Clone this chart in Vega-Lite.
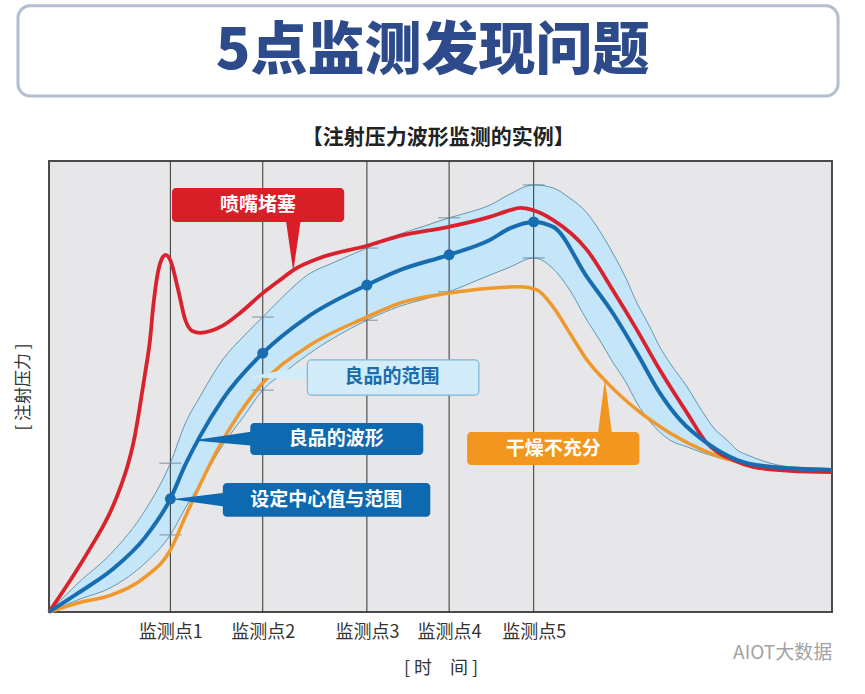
{
  "$schema": "https://vega.github.io/schema/vega-lite/v6.json",
  "width": 783,
  "height": 451,
  "autosize": {"type": "none"},
  "padding": {"left": 49, "top": 161, "right": 33, "bottom": 82},
  "background": "white",
  "config": {
    "font": "Noto Sans CJK SC",
    "view": {"fill": "#E7E7E9", "stroke": "#4a4a4a", "strokeWidth": 2},
    "axisX": {"ticks": false, "domain": false, "grid": false, "labelFontSize": 18, "labelColor": "#333333", "labelPadding": 11, "labelFont": "Noto Sans CJK SC", "labelOverlap": false, "labelBound": false, "labelFlush": false, "titleFontSize": 18, "titleFontWeight": "normal", "titleColor": "#333333", "titlePadding": 18, "titleFont": "Noto Sans CJK SC"},
    "axisY": {"labels": false, "ticks": false, "domain": false, "grid": false, "titleFontSize": 17, "titleFontWeight": "normal", "titleColor": "#333333", "titlePadding": 17, "titleFont": "Noto Sans CJK SC"}
  },
  "datasets": {
    "monitors": [
      {"pt": 1, "x": 15.5, "c": 25.1, "hi": 33.0, "lo": 17.1},
      {"pt": 2, "x": 27.3, "c": 57.4, "hi": 65.4, "lo": 49.2},
      {"pt": 3, "x": 40.6, "c": 72.5, "hi": 80.7, "lo": 64.7},
      {"pt": 4, "x": 51.1, "c": 79.2, "hi": 87.4, "lo": 71.0},
      {"pt": 5, "x": 61.9, "c": 86.5, "hi": 94.7, "lo": 78.5}
    ],
    "band": [
      {"x": 0, "lo": 0, "hi": 0},
      {"x": 3.7, "lo": 2.7, "hi": 6.4},
      {"x": 8.0, "lo": 5.5, "hi": 13.1},
      {"x": 12.3, "lo": 10.9, "hi": 22.6},
      {"x": 15.5, "lo": 17.1, "hi": 33.0},
      {"x": 17.4, "lo": 23.0, "hi": 41.8},
      {"x": 19.3, "lo": 28.5, "hi": 47.8},
      {"x": 22.2, "lo": 37.0, "hi": 56.0},
      {"x": 25.0, "lo": 43.7, "hi": 61.4},
      {"x": 27.3, "lo": 49.2, "hi": 65.4},
      {"x": 30.1, "lo": 53.2, "hi": 70.3},
      {"x": 33.0, "lo": 57.0, "hi": 74.7},
      {"x": 36.5, "lo": 60.9, "hi": 77.6},
      {"x": 40.6, "lo": 64.7, "hi": 80.7},
      {"x": 44.8, "lo": 67.8, "hi": 83.8},
      {"x": 48.0, "lo": 69.4, "hi": 85.6},
      {"x": 51.1, "lo": 71.0, "hi": 87.4},
      {"x": 53.8, "lo": 72.9, "hi": 88.7},
      {"x": 56.3, "lo": 74.7, "hi": 90.2},
      {"x": 58.9, "lo": 76.5, "hi": 92.7},
      {"x": 61.9, "lo": 78.5, "hi": 94.7},
      {"x": 64.4, "lo": 76.1, "hi": 94.0},
      {"x": 66.5, "lo": 71.4, "hi": 91.8},
      {"x": 68.7, "lo": 64.7, "hi": 88.5},
      {"x": 70.4, "lo": 60.1, "hi": 84.3},
      {"x": 72.0, "lo": 55.4, "hi": 79.6},
      {"x": 73.6, "lo": 51.2, "hi": 74.3},
      {"x": 75.1, "lo": 46.3, "hi": 68.5},
      {"x": 76.8, "lo": 42.1, "hi": 63.0},
      {"x": 78.0, "lo": 39.9, "hi": 58.8},
      {"x": 79.3, "lo": 38.1, "hi": 55.2},
      {"x": 81.5, "lo": 36.6, "hi": 49.9},
      {"x": 83.5, "lo": 35.3, "hi": 44.3},
      {"x": 84.8, "lo": 34.6, "hi": 41.0},
      {"x": 86.6, "lo": 33.7, "hi": 38.1},
      {"x": 87.9, "lo": 33.3, "hi": 35.9},
      {"x": 89.5, "lo": 32.6, "hi": 34.6},
      {"x": 92.1, "lo": 32.2, "hi": 33.0},
      {"x": 95.9, "lo": 31.7, "hi": 31.9},
      {"x": 100, "lo": 31.5, "hi": 31.5}
    ],
    "curves": [
      {"s": "red", "x": 0, "y": 0},
      {"s": "red", "x": 3.3, "y": 8.6},
      {"s": "red", "x": 5.9, "y": 16.0},
      {"s": "red", "x": 7.0, "y": 19.3},
      {"s": "red", "x": 8.2, "y": 23.6},
      {"s": "red", "x": 9.2, "y": 28.0},
      {"s": "red", "x": 10.1, "y": 32.8},
      {"s": "red", "x": 10.9, "y": 38.5},
      {"s": "red", "x": 11.6, "y": 45.5},
      {"s": "red", "x": 12.3, "y": 53.2},
      {"s": "red", "x": 12.9, "y": 60.3},
      {"s": "red", "x": 13.3, "y": 67.6},
      {"s": "red", "x": 13.9, "y": 75.2},
      {"s": "red", "x": 14.5, "y": 78.6},
      {"s": "red", "x": 14.9, "y": 79.2},
      {"s": "red", "x": 15.5, "y": 78.0},
      {"s": "red", "x": 16.5, "y": 71.4},
      {"s": "red", "x": 17.4, "y": 64.8},
      {"s": "red", "x": 18.3, "y": 62.3},
      {"s": "red", "x": 19.3, "y": 61.9},
      {"s": "red", "x": 20.6, "y": 62.3},
      {"s": "red", "x": 22.2, "y": 63.5},
      {"s": "red", "x": 24.4, "y": 66.3},
      {"s": "red", "x": 27.3, "y": 70.7},
      {"s": "red", "x": 29.5, "y": 73.6},
      {"s": "red", "x": 31.2, "y": 75.8},
      {"s": "red", "x": 34.6, "y": 78.5},
      {"s": "red", "x": 40.6, "y": 81.2},
      {"s": "red", "x": 44.8, "y": 83.4},
      {"s": "red", "x": 51.1, "y": 85.4},
      {"s": "red", "x": 56.3, "y": 87.6},
      {"s": "red", "x": 58.9, "y": 89.1},
      {"s": "red", "x": 60.2, "y": 89.6},
      {"s": "red", "x": 61.8, "y": 89.1},
      {"s": "red", "x": 64.4, "y": 86.9},
      {"s": "red", "x": 68.7, "y": 80.3},
      {"s": "red", "x": 72.0, "y": 71.4},
      {"s": "red", "x": 75.1, "y": 62.5},
      {"s": "red", "x": 78.0, "y": 53.7},
      {"s": "red", "x": 81.5, "y": 44.1},
      {"s": "red", "x": 84.0, "y": 37.5},
      {"s": "red", "x": 87.4, "y": 33.7},
      {"s": "red", "x": 89.9, "y": 32.2},
      {"s": "red", "x": 94.6, "y": 31.3},
      {"s": "red", "x": 100, "y": 31.0},
      {"s": "blue", "x": 0, "y": 0},
      {"s": "blue", "x": 3.7, "y": 4.2},
      {"s": "blue", "x": 8.0, "y": 9.3},
      {"s": "blue", "x": 12.3, "y": 16.6},
      {"s": "blue", "x": 15.5, "y": 25.1},
      {"s": "blue", "x": 17.4, "y": 32.6},
      {"s": "blue", "x": 19.3, "y": 39.0},
      {"s": "blue", "x": 22.2, "y": 47.2},
      {"s": "blue", "x": 27.3, "y": 57.4},
      {"s": "blue", "x": 33.0, "y": 65.4},
      {"s": "blue", "x": 40.6, "y": 72.5},
      {"s": "blue", "x": 44.8, "y": 75.8},
      {"s": "blue", "x": 51.1, "y": 79.2},
      {"s": "blue", "x": 56.3, "y": 82.5},
      {"s": "blue", "x": 58.9, "y": 85.1},
      {"s": "blue", "x": 61.9, "y": 86.5},
      {"s": "blue", "x": 64.4, "y": 85.4},
      {"s": "blue", "x": 68.7, "y": 74.3},
      {"s": "blue", "x": 72.0, "y": 66.3},
      {"s": "blue", "x": 75.1, "y": 57.4},
      {"s": "blue", "x": 78.0, "y": 48.6},
      {"s": "blue", "x": 80.6, "y": 42.6},
      {"s": "blue", "x": 84.0, "y": 37.5},
      {"s": "blue", "x": 87.9, "y": 33.7},
      {"s": "blue", "x": 92.1, "y": 32.2},
      {"s": "blue", "x": 100, "y": 31.5},
      {"s": "orange", "x": 0, "y": 0},
      {"s": "orange", "x": 3.7, "y": 2.0},
      {"s": "orange", "x": 8.0, "y": 3.8},
      {"s": "orange", "x": 12.3, "y": 7.8},
      {"s": "orange", "x": 15.5, "y": 13.7},
      {"s": "orange", "x": 17.4, "y": 21.1},
      {"s": "orange", "x": 20.2, "y": 31.5},
      {"s": "orange", "x": 22.2, "y": 38.1},
      {"s": "orange", "x": 27.3, "y": 50.8},
      {"s": "orange", "x": 33.0, "y": 58.8},
      {"s": "orange", "x": 40.6, "y": 65.4},
      {"s": "orange", "x": 44.8, "y": 68.5},
      {"s": "orange", "x": 51.1, "y": 70.7},
      {"s": "orange", "x": 56.3, "y": 71.8},
      {"s": "orange", "x": 60.2, "y": 72.1},
      {"s": "orange", "x": 62.3, "y": 71.4},
      {"s": "orange", "x": 64.4, "y": 67.6},
      {"s": "orange", "x": 66.5, "y": 61.9},
      {"s": "orange", "x": 68.7, "y": 55.9},
      {"s": "orange", "x": 71.3, "y": 50.8},
      {"s": "orange", "x": 75.1, "y": 44.8},
      {"s": "orange", "x": 79.3, "y": 39.7},
      {"s": "orange", "x": 83.5, "y": 35.9},
      {"s": "orange", "x": 87.9, "y": 33.3},
      {"s": "orange", "x": 92.1, "y": 32.2},
      {"s": "orange", "x": 100, "y": 31.5}
    ],
    "boxes": [
      {"id": "nozzle", "label": "喷嘴堵塞", "x": 15.7, "x2": 37.7, "y": 86.5, "y2": 94.0, "tx": 26.7, "ty": 90.25},
      {"id": "range", "label": "良品的范围", "x": 33.0, "x2": 54.9, "y": 48.1, "y2": 55.9, "tx": 43.8, "ty": 52.0},
      {"id": "wave", "label": "良品的波形", "x": 25.7, "x2": 47.8, "y": 34.8, "y2": 41.9, "tx": 36.7, "ty": 38.35},
      {"id": "center", "label": "设定中心值与范围", "x": 22.2, "x2": 48.7, "y": 21.1, "y2": 28.6, "tx": 35.4, "ty": 24.85},
      {"id": "dry", "label": "干燥不充分", "x": 53.4, "x2": 75.4, "y": 32.6, "y2": 39.9, "tx": 64.4, "ty": 36.25}
    ],
    "pointers": [
      {"id": "nozzle", "k": 0, "x": 31.2, "y": 88.5, "w": 1},
      {"id": "nozzle", "k": 1, "x": 31.2, "y": 76.3, "w": 0},
      {"id": "range", "k": 0, "x": 34.5, "y": 53.3, "w": 1},
      {"id": "range", "k": 1, "x": 25.9, "y": 52.1, "w": 0},
      {"id": "wave", "k": 0, "x": 27.5, "y": 38.5, "w": 1},
      {"id": "wave", "k": 1, "x": 18.9, "y": 38.1, "w": 0},
      {"id": "center", "k": 0, "x": 24.0, "y": 24.9, "w": 1},
      {"id": "center", "k": 1, "x": 16.2, "y": 25.0, "w": 0},
      {"id": "dry", "k": 0, "x": 71.0, "y": 37.0, "w": 1},
      {"id": "dry", "k": 1, "x": 71.0, "y": 50.8, "w": 0}
    ],
    "headings": [
      {"t": "5点监测发现问题", "x": 49.0, "y": 124.2, "kind": "main"},
      {"t": "【注射压力波形监测的实例】", "x": 49.7, "y": 105.1, "kind": "sub"}
    ]
  },
  "layer": [
    {
      "data": {"values": [{"x": -3.96, "x2": 100.77, "y": 114.4, "y2": 134.4}]},
      "mark": {"type": "rect", "fill": "white", "stroke": "#B3BED1", "strokeWidth": 3, "cornerRadius": 12},
      "encoding": {
        "x": {"field": "x", "type": "quantitative", "scale": {"domain": [0, 100], "nice": false, "zero": false}, "title": "[ 时　间 ]", "axis": {"values": [15.5, 27.3, 40.6, 51.1, 61.9], "labelExpr": "'监测点' + (indexof([15.5, 27.3, 40.6, 51.1, 61.9], datum.value) + 1)"}},
        "x2": {"field": "x2"},
        "y": {"field": "y", "type": "quantitative", "scale": {"domain": [0, 100], "nice": false, "zero": false}, "title": "[ 注射压力 ]"},
        "y2": {"field": "y2"}
      }
    },
    {
      "data": {"name": "band"},
      "mark": {"type": "area", "fill": "#C4E6F8", "interpolate": "monotone"},
      "encoding": {
        "x": {"field": "x", "type": "quantitative", "scale": {"domain": [0, 100], "nice": false, "zero": false}, "title": "[ 时　间 ]", "axis": {"values": [15.5, 27.3, 40.6, 51.1, 61.9], "labelExpr": "'监测点' + (indexof([15.5, 27.3, 40.6, 51.1, 61.9], datum.value) + 1)"}},
        "y": {"field": "lo", "type": "quantitative", "scale": {"domain": [0, 100], "nice": false, "zero": false}, "title": "[ 注射压力 ]"},
        "y2": {"field": "hi"}
      }
    },
    {
      "data": {"name": "monitors"},
      "mark": {"type": "rule", "color": "#333333", "strokeWidth": 1},
      "encoding": {
        "x": {"field": "x", "type": "quantitative", "scale": {"domain": [0, 100], "nice": false, "zero": false}, "title": "[ 时　间 ]", "axis": {"values": [15.5, 27.3, 40.6, 51.1, 61.9], "labelExpr": "'监测点' + (indexof([15.5, 27.3, 40.6, 51.1, 61.9], datum.value) + 1)"}}
      }
    },
    {
      "data": {"name": "band"},
      "mark": {"type": "line", "color": "#5A8BAA", "strokeWidth": 0.9, "interpolate": "monotone"},
      "encoding": {
        "x": {"field": "x", "type": "quantitative", "scale": {"domain": [0, 100], "nice": false, "zero": false}, "title": "[ 时　间 ]", "axis": {"values": [15.5, 27.3, 40.6, 51.1, 61.9], "labelExpr": "'监测点' + (indexof([15.5, 27.3, 40.6, 51.1, 61.9], datum.value) + 1)"}},
        "y": {"field": "hi", "type": "quantitative", "scale": {"domain": [0, 100], "nice": false, "zero": false}, "title": "[ 注射压力 ]"}
      }
    },
    {
      "data": {"name": "band"},
      "mark": {"type": "line", "color": "#5A8BAA", "strokeWidth": 0.9, "interpolate": "monotone"},
      "encoding": {
        "x": {"field": "x", "type": "quantitative", "scale": {"domain": [0, 100], "nice": false, "zero": false}, "title": "[ 时　间 ]", "axis": {"values": [15.5, 27.3, 40.6, 51.1, 61.9], "labelExpr": "'监测点' + (indexof([15.5, 27.3, 40.6, 51.1, 61.9], datum.value) + 1)"}},
        "y": {"field": "lo", "type": "quantitative", "scale": {"domain": [0, 100], "nice": false, "zero": false}, "title": "[ 注射压力 ]"}
      }
    },
    {
      "data": {"name": "monitors"},
      "mark": {"type": "tick", "orient": "horizontal", "size": 22, "thickness": 1, "color": "#4F6F82"},
      "encoding": {
        "x": {"field": "x", "type": "quantitative", "scale": {"domain": [0, 100], "nice": false, "zero": false}, "title": "[ 时　间 ]", "axis": {"values": [15.5, 27.3, 40.6, 51.1, 61.9], "labelExpr": "'监测点' + (indexof([15.5, 27.3, 40.6, 51.1, 61.9], datum.value) + 1)"}},
        "y": {"field": "hi", "type": "quantitative", "scale": {"domain": [0, 100], "nice": false, "zero": false}, "title": "[ 注射压力 ]"}
      }
    },
    {
      "data": {"name": "monitors"},
      "mark": {"type": "tick", "orient": "horizontal", "size": 22, "thickness": 1, "color": "#4F6F82"},
      "encoding": {
        "x": {"field": "x", "type": "quantitative", "scale": {"domain": [0, 100], "nice": false, "zero": false}, "title": "[ 时　间 ]", "axis": {"values": [15.5, 27.3, 40.6, 51.1, 61.9], "labelExpr": "'监测点' + (indexof([15.5, 27.3, 40.6, 51.1, 61.9], datum.value) + 1)"}},
        "y": {"field": "lo", "type": "quantitative", "scale": {"domain": [0, 100], "nice": false, "zero": false}, "title": "[ 注射压力 ]"}
      }
    },
    {
      "data": {"name": "curves"},
      "transform": [{"filter": "datum.s === 'orange'"}],
      "mark": {"type": "line", "color": "#F0982C", "strokeWidth": 3.5, "interpolate": "monotone"},
      "encoding": {
        "x": {"field": "x", "type": "quantitative", "scale": {"domain": [0, 100], "nice": false, "zero": false}, "title": "[ 时　间 ]", "axis": {"values": [15.5, 27.3, 40.6, 51.1, 61.9], "labelExpr": "'监测点' + (indexof([15.5, 27.3, 40.6, 51.1, 61.9], datum.value) + 1)"}},
        "y": {"field": "y", "type": "quantitative", "scale": {"domain": [0, 100], "nice": false, "zero": false}, "title": "[ 注射压力 ]"}
      }
    },
    {
      "data": {"name": "curves"},
      "transform": [{"filter": "datum.s === 'red'"}],
      "mark": {"type": "line", "color": "#D8222D", "strokeWidth": 3.8, "interpolate": "monotone"},
      "encoding": {
        "x": {"field": "x", "type": "quantitative", "scale": {"domain": [0, 100], "nice": false, "zero": false}, "title": "[ 时　间 ]", "axis": {"values": [15.5, 27.3, 40.6, 51.1, 61.9], "labelExpr": "'监测点' + (indexof([15.5, 27.3, 40.6, 51.1, 61.9], datum.value) + 1)"}},
        "y": {"field": "y", "type": "quantitative", "scale": {"domain": [0, 100], "nice": false, "zero": false}, "title": "[ 注射压力 ]"}
      }
    },
    {
      "data": {"name": "curves"},
      "transform": [{"filter": "datum.s === 'blue'"}],
      "mark": {"type": "line", "color": "#176DB0", "strokeWidth": 4, "interpolate": "monotone"},
      "encoding": {
        "x": {"field": "x", "type": "quantitative", "scale": {"domain": [0, 100], "nice": false, "zero": false}, "title": "[ 时　间 ]", "axis": {"values": [15.5, 27.3, 40.6, 51.1, 61.9], "labelExpr": "'监测点' + (indexof([15.5, 27.3, 40.6, 51.1, 61.9], datum.value) + 1)"}},
        "y": {"field": "y", "type": "quantitative", "scale": {"domain": [0, 100], "nice": false, "zero": false}, "title": "[ 注射压力 ]"}
      }
    },
    {
      "data": {"name": "monitors"},
      "mark": {"type": "point", "filled": true, "size": 120, "color": "#176DB0", "opacity": 1},
      "encoding": {
        "x": {"field": "x", "type": "quantitative", "scale": {"domain": [0, 100], "nice": false, "zero": false}, "title": "[ 时　间 ]", "axis": {"values": [15.5, 27.3, 40.6, 51.1, 61.9], "labelExpr": "'监测点' + (indexof([15.5, 27.3, 40.6, 51.1, 61.9], datum.value) + 1)"}},
        "y": {"field": "c", "type": "quantitative", "scale": {"domain": [0, 100], "nice": false, "zero": false}, "title": "[ 注射压力 ]"}
      }
    },
    {
      "data": {"name": "pointers"},
      "mark": {"type": "trail"},
      "encoding": {
        "x": {"field": "x", "type": "quantitative", "scale": {"domain": [0, 100], "nice": false, "zero": false}, "title": "[ 时　间 ]", "axis": {"values": [15.5, 27.3, 40.6, 51.1, 61.9], "labelExpr": "'监测点' + (indexof([15.5, 27.3, 40.6, 51.1, 61.9], datum.value) + 1)"}},
        "y": {"field": "y", "type": "quantitative", "scale": {"domain": [0, 100], "nice": false, "zero": false}, "title": "[ 注射压力 ]"},
        "size": {"field": "w", "type": "quantitative", "scale": {"domain": [0, 1], "range": [0, 17]}, "legend": null},
        "color": {"field": "id", "type": "nominal", "scale": {"domain": ["nozzle", "range", "wave", "center", "dry"], "range": ["#D81F28", "#D2ECF9", "#0E6AB0", "#0E6AB0", "#F2961F"]}, "legend": null},
        "order": {"field": "k", "type": "quantitative"}
      }
    },
    {
      "data": {"name": "boxes"},
      "mark": {"type": "rect", "cornerRadius": 4, "strokeWidth": 1.2},
      "encoding": {
        "x": {"field": "x", "type": "quantitative", "scale": {"domain": [0, 100], "nice": false, "zero": false}, "title": "[ 时　间 ]", "axis": {"values": [15.5, 27.3, 40.6, 51.1, 61.9], "labelExpr": "'监测点' + (indexof([15.5, 27.3, 40.6, 51.1, 61.9], datum.value) + 1)"}},
        "x2": {"field": "x2"},
        "y": {"field": "y", "type": "quantitative", "scale": {"domain": [0, 100], "nice": false, "zero": false}, "title": "[ 注射压力 ]"},
        "y2": {"field": "y2"},
        "color": {"field": "id", "type": "nominal", "scale": {"domain": ["nozzle", "range", "wave", "center", "dry"], "range": ["#D81F28", "#D2ECF9", "#0E6AB0", "#0E6AB0", "#F2961F"]}, "legend": null},
        "stroke": {"condition": {"test": "datum.id === 'range'", "value": "#7FB4D4"}, "value": "transparent"}
      }
    },
    {
      "data": {"name": "boxes"},
      "mark": {"type": "text", "fontSize": 19, "fontWeight": "bold", "font": "Noto Sans CJK SC", "align": "center", "baseline": "middle"},
      "encoding": {
        "x": {"field": "tx", "type": "quantitative", "scale": {"domain": [0, 100], "nice": false, "zero": false}, "title": "[ 时　间 ]", "axis": {"values": [15.5, 27.3, 40.6, 51.1, 61.9], "labelExpr": "'监测点' + (indexof([15.5, 27.3, 40.6, 51.1, 61.9], datum.value) + 1)"}},
        "y": {"field": "ty", "type": "quantitative", "scale": {"domain": [0, 100], "nice": false, "zero": false}, "title": "[ 注射压力 ]"},
        "text": {"field": "label"},
        "color": {"condition": {"test": "datum.id === 'range'", "value": "#1A6CAD"}, "value": "white"}
      }
    },
    {
      "data": {"name": "headings"},
      "transform": [{"filter": "datum.kind === 'main'"}],
      "mark": {"type": "text", "fontSize": 57, "fontWeight": 900, "font": "Noto Sans CJK SC", "color": "#2D4B8B", "align": "center", "baseline": "middle"},
      "encoding": {
        "x": {"field": "x", "type": "quantitative", "scale": {"domain": [0, 100], "nice": false, "zero": false}, "title": "[ 时　间 ]", "axis": {"values": [15.5, 27.3, 40.6, 51.1, 61.9], "labelExpr": "'监测点' + (indexof([15.5, 27.3, 40.6, 51.1, 61.9], datum.value) + 1)"}},
        "y": {"field": "y", "type": "quantitative", "scale": {"domain": [0, 100], "nice": false, "zero": false}, "title": "[ 注射压力 ]"},
        "text": {"field": "t"}
      }
    },
    {
      "data": {"name": "headings"},
      "transform": [{"filter": "datum.kind === 'sub'"}],
      "mark": {"type": "text", "fontSize": 21, "fontWeight": "bold", "font": "Noto Sans CJK SC", "color": "#222222", "align": "center", "baseline": "middle"},
      "encoding": {
        "x": {"field": "x", "type": "quantitative", "scale": {"domain": [0, 100], "nice": false, "zero": false}, "title": "[ 时　间 ]", "axis": {"values": [15.5, 27.3, 40.6, 51.1, 61.9], "labelExpr": "'监测点' + (indexof([15.5, 27.3, 40.6, 51.1, 61.9], datum.value) + 1)"}},
        "y": {"field": "y", "type": "quantitative", "scale": {"domain": [0, 100], "nice": false, "zero": false}, "title": "[ 注射压力 ]"},
        "text": {"field": "t"}
      }
    },
    {
      "data": {"values": [{"x": 93.7, "y": -9.1, "t": "AIOT大数据"}]},
      "mark": {"type": "text", "fontSize": 19, "font": "Noto Sans CJK SC", "color": "#A3A3A3", "align": "center", "baseline": "middle"},
      "encoding": {
        "x": {"field": "x", "type": "quantitative", "scale": {"domain": [0, 100], "nice": false, "zero": false}, "title": "[ 时　间 ]", "axis": {"values": [15.5, 27.3, 40.6, 51.1, 61.9], "labelExpr": "'监测点' + (indexof([15.5, 27.3, 40.6, 51.1, 61.9], datum.value) + 1)"}},
        "y": {"field": "y", "type": "quantitative", "scale": {"domain": [0, 100], "nice": false, "zero": false}, "title": "[ 注射压力 ]"},
        "text": {"field": "t"}
      }
    }
  ]
}
